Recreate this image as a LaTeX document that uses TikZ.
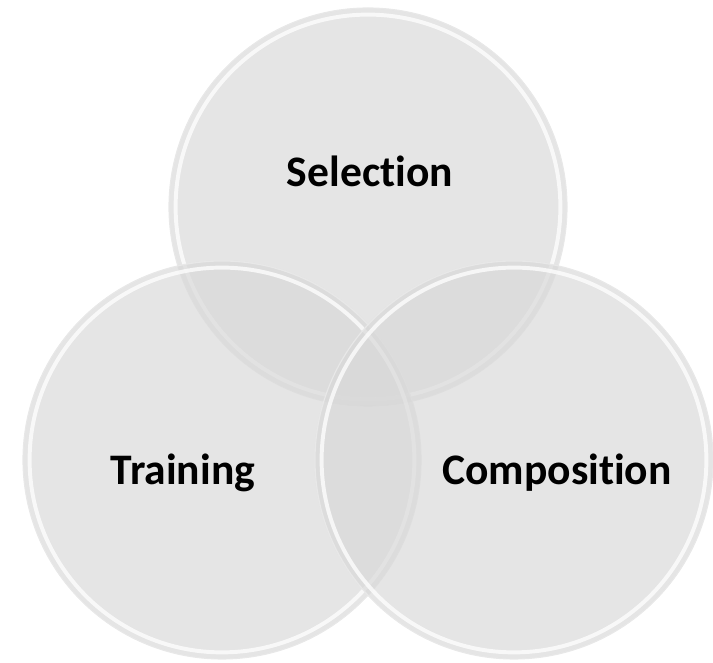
\documentclass[tikz,border=0pt]{standalone}
\usepackage{fontspec}
\setmainfont[Ligatures=NoCommon]{Carlito}
\definecolor{discgray}{RGB}{216,216,216}
\definecolor{edgegray}{RGB}{232,232,232}

\begin{document}
\begin{tikzpicture}[
        disc/.style={
            circle,
            fill=discgray,
            fill opacity=0.68,
            draw=edgegray,
            line width=0.8pt,
            minimum size=9.95cm,
            inner sep=0pt
        },
        ring/.style={
            circle,
            draw=white,
            draw opacity=0.75,
            line width=2.8pt,
            minimum size=9.62cm,
            inner sep=0pt
        },
        areatext/.style={
            draw=none,
            fill=none,
            font=\bfseries\fontsize{31}{36}\selectfont,
            text=black,
            inner sep=0pt
        }
    ]

    % Marco de la figura
    \useasboundingbox (0,0) rectangle (17.825,16.575);

    % Circulos
    \node[disc] (sel) at (9.2,11.4) {};
    \node[ring] (selring) at (sel.center) {};

    \node[disc] (tra) at (5.55,5.075) {};
    \node[ring] (traring) at (tra.center) {};

    \node[disc] (com) at (12.85,5.075) {};
    \node[ring] (comring) at (com.center) {};

    % Etiquetas
    \node[areatext] (seltext) at (9.25,12.3) {Selection};
    \node[areatext] (tratext) at (4.575,4.75) {Training};
    \node[areatext] (comtext) at (13.925,4.75) {Composition};

\end{tikzpicture}
\end{document}
